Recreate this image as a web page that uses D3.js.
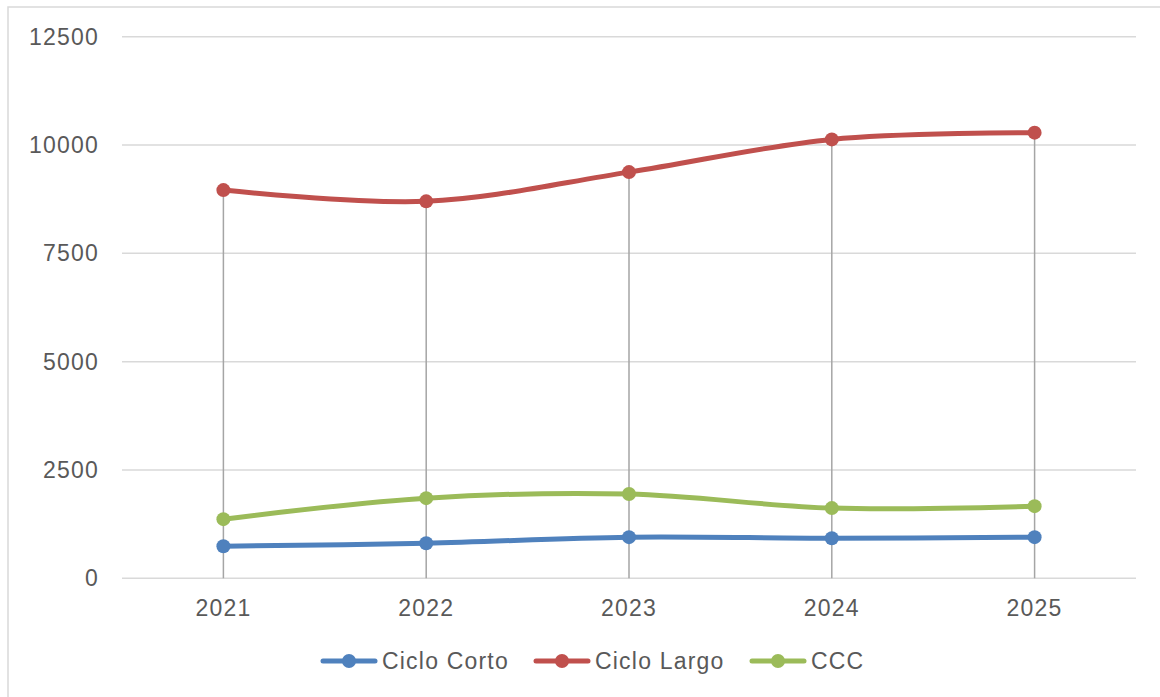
<!DOCTYPE html>
<html><head><meta charset="utf-8">
<script src="https://cdn.jsdelivr.net/npm/d3@7"></script>
<style>
html,body{margin:0;padding:0;background:#fff;}
text{font-family:"Liberation Sans",Arial,sans-serif;fill:#595959;letter-spacing:1.2px;}
</style></head>
<body><svg id="c" width="1160" height="697"></svg>
<script>
const years = ["2021","2022","2023","2024","2025"];
const cicloCorto = [740, 810, 950, 925, 950];
const cicloLargo = [8960, 8700, 9375, 10130, 10285];
const ccc = [1365, 1850, 1945, 1620, 1665];
const yTicks = [0, 2500, 5000, 7500, 10000, 12500];
const seriesNames = ["Ciclo Corto", "Ciclo Largo", "CCC"];
const seriesColors = ["#4f81bd", "#c0504d", "#9bbb59"];

const series = [cicloCorto, cicloLargo, ccc].map((v,i)=>({name:seriesNames[i], color:seriesColors[i], values:v}));

const svg = d3.select("#c");
svg.append("rect").attr("x",8).attr("y",7).attr("width",1160).attr("height",700)
  .attr("fill","none").attr("stroke","#d9d9d9").attr("stroke-width",1.5);

const x = d3.scaleBand().domain(years).range([122,1136]);
const y = d3.scaleLinear().domain([0,12500]).range([578.3,36.7]);

// gridlines
svg.append("g").selectAll("line").data(yTicks).join("line")
  .attr("x1",122).attr("x2",1136).attr("y1",d=>y(d)).attr("y2",d=>y(d))
  .attr("stroke","#d9d9d9").attr("stroke-width",1.5);

// y labels
svg.append("g").selectAll("text").data(yTicks).join("text")
  .attr("x",99).attr("y",d=>y(d)).attr("text-anchor","end").attr("dy","0.35em")
  .attr("font-size",23).text(d=>d);

// x labels
svg.append("g").selectAll("text").data(years).join("text")
  .attr("x",d=>x(d)+x.bandwidth()/2).attr("y",608).attr("text-anchor","middle").attr("dy","0.35em")
  .attr("font-size",23).text(d=>d);

const cx = d => x(d)+x.bandwidth()/2;

// drop lines
svg.append("g").selectAll("line").data(years).join("line")
  .attr("x1",cx).attr("x2",cx)
  .attr("y1",(d,i)=>y(d3.max(series,s=>s.values[i])))
  .attr("y2",y(0))
  .attr("stroke","#a5a5a5").attr("stroke-width",1.5);

const line = d3.line().x((d,i)=>cx(years[i])).y(d=>y(d)).curve(d3.curveCatmullRom.alpha(0.5));

const g = svg.append("g");
series.forEach(s=>{
  g.append("path").attr("d",line(s.values)).attr("fill","none")
    .attr("stroke",s.color).attr("stroke-width",5).attr("stroke-linecap","round");
  g.selectAll(null).data(s.values).join("circle")
    .attr("cx",(d,i)=>cx(years[i])).attr("cy",d=>y(d)).attr("r",7).attr("fill",s.color);
});

// legend
const legX = [323, 536, 752];
const leg = svg.append("g");
series.forEach((s,i)=>{
  const lx = legX[i];
  leg.append("line").attr("x1",lx).attr("x2",lx+52).attr("y1",661).attr("y2",661)
    .attr("stroke",s.color).attr("stroke-width",5).attr("stroke-linecap","round");
  leg.append("circle").attr("cx",lx+26).attr("cy",661).attr("r",7).attr("fill",s.color);
  leg.append("text").attr("x",lx+59).attr("y",661).attr("dy","0.35em").attr("font-size",23).text(s.name);
});
</script></body></html>
